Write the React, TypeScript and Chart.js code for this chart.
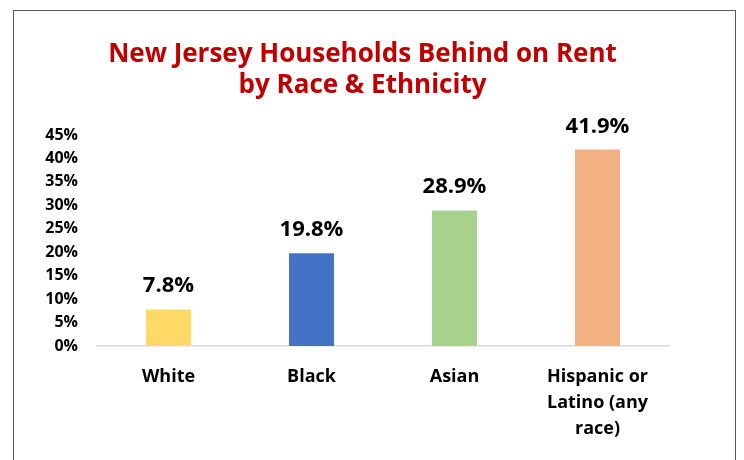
import React, { useEffect, useRef } from 'react';
import { Chart, registerables, Plugin } from 'chart.js';

Chart.register(...registerables);

const categories: (string | string[])[] = ['White', 'Black', 'Asian', ['Hispanic or', 'Latino (any', 'race)']];
const shareBehind = [7.8, 19.8, 28.9, 41.9];
const barColors = ['#FFD966', '#4472C4', '#A9D18E', '#F4B183'];
const titleLines = ['New Jersey Households Behind on Rent', 'by Race & Ethnicity'];

const FONT = '"Open Sans", "DejaVu Sans", sans-serif';

// value labels above each bar
const valueLabels: Plugin<'bar'> = {
    id: 'valueLabels',
    afterDatasetsDraw(chart) {
        const { ctx } = chart;
        const meta = chart.getDatasetMeta(0);
        ctx.save();
        ctx.font = `bold 22px ${FONT}`;
        ctx.fillStyle = '#000';
        ctx.textAlign = 'center';
        ctx.textBaseline = 'alphabetic';
        meta.data.forEach((bar, i) => {
            ctx.fillText(`${shareBehind[i].toFixed(1)}%`, bar.x, bar.y - 17);
        });
        ctx.restore();
    }
};

const App: React.FC = () => {
    const chartRef = useRef<HTMLCanvasElement>(null);
    const chartInstance = useRef<Chart | null>(null);

    useEffect(() => {
        if (!chartRef.current) return;
        if (chartInstance.current) {
            chartInstance.current.destroy();
        }
        const ctx = chartRef.current.getContext('2d');
        if (!ctx) return;

        chartInstance.current = new Chart(ctx, {
            type: 'bar',
            data: {
                labels: categories,
                datasets: [{
                    data: shareBehind,
                    backgroundColor: barColors,
                    borderWidth: 0,
                    categoryPercentage: 1,
                    barPercentage: 0.315
                }]
            },
            options: {
                responsive: false,
                animation: false,
                layout: { padding: { top: 135, left: 0, right: 75, bottom: 0 } },
                plugins: {
                    legend: { display: false },
                    tooltip: { enabled: false },
                    title: { display: false }
                },
                scales: {
                    x: {
                        grid: { display: false },
                        border: { display: true, color: '#D9D9D9', width: 1.5 },
                        ticks: {
                            color: '#000',
                            font: { family: FONT, size: 18, weight: 'bold', lineHeight: 1.45 },
                            padding: 10,
                            maxRotation: 0,
                            autoSkip: false
                        },
                        afterFit: (s) => { s.height = 114; }
                    },
                    y: {
                        min: 0,
                        max: 45,
                        grid: { display: false, drawTicks: false },
                        border: { display: false },
                        ticks: {
                            stepSize: 5,
                            color: '#000',
                            font: { family: FONT, size: 16, weight: 'bold' },
                            padding: 19,
                            callback: (v) => `${v}%`
                        },
                        afterFit: (s) => { s.width = 97; }
                    }
                }
            },
            plugins: [valueLabels]
        });

        return () => {
            if (chartInstance.current) {
                chartInstance.current.destroy();
                chartInstance.current = null;
            }
        };
    }, []);

    return (
        <div style={{ position: 'fixed', left: 0, top: 0, width: 744, height: 460, overflow: 'hidden', background: '#fff' }}>
            <canvas ref={chartRef} width={744} height={460} style={{ position: 'absolute', left: 0, top: 0 }}></canvas>
            <div style={{
                position: 'absolute', left: 0, top: 37, width: 725, textAlign: 'center',
                fontFamily: FONT, fontWeight: 'bold', fontSize: 26, lineHeight: '31px', color: '#C00000'
            }}>
                {titleLines.map((t) => <div key={t}>{t}</div>)}
            </div>
            <div style={{
                position: 'absolute', left: 13, top: 10, width: 723, height: 470,
                border: '1px solid #595959', boxSizing: 'border-box', pointerEvents: 'none'
            }}></div>
        </div>
    );
};

export default App;
